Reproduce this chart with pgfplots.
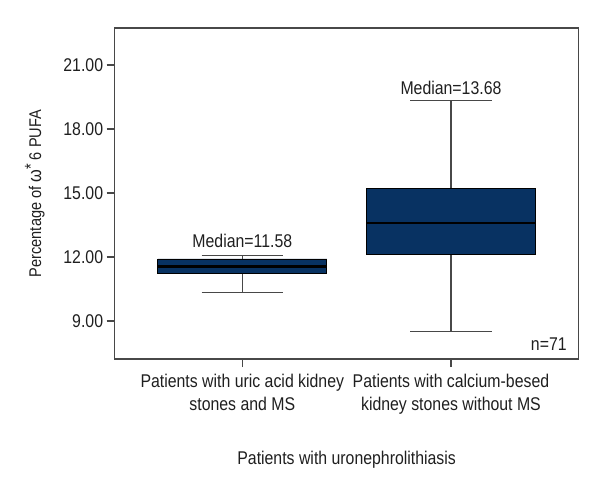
\documentclass[border=0pt]{standalone}
\usepackage{pgfplots}
\pgfplotsset{compat=1.18}
\usepackage{fontspec}
\setmainfont{Liberation Sans}[FakeStretch=0.86]
\definecolor{boxblue}{RGB}{8,50,98}
\definecolor{framegray}{RGB}{72,72,72}
\begin{document}
\begin{tikzpicture}
\begin{axis}[
  scale only axis,
  width=464bp, height=331bp,
  xmin=0.388, xmax=2.612,
  ymin=7.22, ymax=22.73,
  axis line style={framegray, line width=1.4bp},
  xtick={1,2},
  xticklabels={{Patients with uric acid kidney\\stones and MS},{Patients with calcium-besed\\kidney stones without MS}},
  xticklabel style={align=center, font=\fontsize{18.5}{23}\selectfont, text=black!88, yshift=-4bp},
  ytick={9,12,15,18,21},
  yticklabel style={font=\fontsize{18.5}{20}\selectfont, text=black!88, /pgf/number format/fixed, /pgf/number format/fixed zerofill, /pgf/number format/precision=2, /pgf/number format/assume math mode=true},
  tick align=outside,
  xtick pos=bottom, ytick pos=left,
  major tick length=8bp,
  tick style={framegray, line width=1.2bp},
  ylabel={Percentage of {\fontsize{19}{20}\selectfont ω}\raisebox{0.5ex}{*}\ 6 PUFA},
  ylabel style={at={(axis description cs:-0.172,0.5)}, anchor=center, font=\fontsize{17}{20}\selectfont, text=black!88},
  xlabel={Patients with uronephrolithiasis},
  xlabel style={at={(axis description cs:0.5,-0.305)}, anchor=center, font=\fontsize{18.5}{20}\selectfont, text=black!88},
]
% Group 1: whiskers
\addplot[framegray, line width=1.3bp] coordinates {(1,11.91) (1,12.06)};
\addplot[framegray, line width=1.3bp] coordinates {(0.805,12.06) (1.195,12.06)};
\addplot[framegray, line width=1.3bp] coordinates {(1,11.21) (1,10.33)};
\addplot[framegray, line width=1.3bp] coordinates {(0.805,10.33) (1.195,10.33)};
% Group 1: box and median
\addplot[fill=boxblue, draw=black, line width=0.8bp] coordinates {(0.595,11.21) (1.405,11.21) (1.405,11.91) (0.595,11.91) (0.595,11.21)};
\addplot[black, line width=2.6bp] coordinates {(0.595,11.56) (1.405,11.56)};
% Group 2: whiskers
\addplot[framegray, line width=1.3bp] coordinates {(2,15.23) (2,19.32)};
\addplot[framegray, line width=1.3bp] coordinates {(1.805,19.32) (2.195,19.32)};
\addplot[framegray, line width=1.3bp] coordinates {(2,12.14) (2,8.52)};
\addplot[framegray, line width=1.3bp] coordinates {(1.805,8.52) (2.195,8.52)};
% Group 2: box and median
\addplot[fill=boxblue, draw=black, line width=0.8bp] coordinates {(1.595,12.14) (2.405,12.14) (2.405,15.23) (1.595,15.23) (1.595,12.14)};
\addplot[black, line width=2.6bp] coordinates {(1.595,13.59) (2.405,13.59)};
\node[font=\fontsize{18.5}{20}\selectfont, text=black!88] at (axis cs:1,12.76) {Median=11.58};
\node[font=\fontsize{18.5}{20}\selectfont, text=black!88] at (axis cs:2,19.92) {Median=13.68};
\node[font=\fontsize{18.5}{20}\selectfont, text=black!88] at (axis cs:2.469,7.90) {n=71};
\coordinate (bl) at (rel axis cs:-0.247,-0.426);
\coordinate (tr) at (rel axis cs:1.046,1.0846);
\end{axis}
\pgfresetboundingbox
\path (bl) rectangle (tr);
\end{tikzpicture}
\end{document}
